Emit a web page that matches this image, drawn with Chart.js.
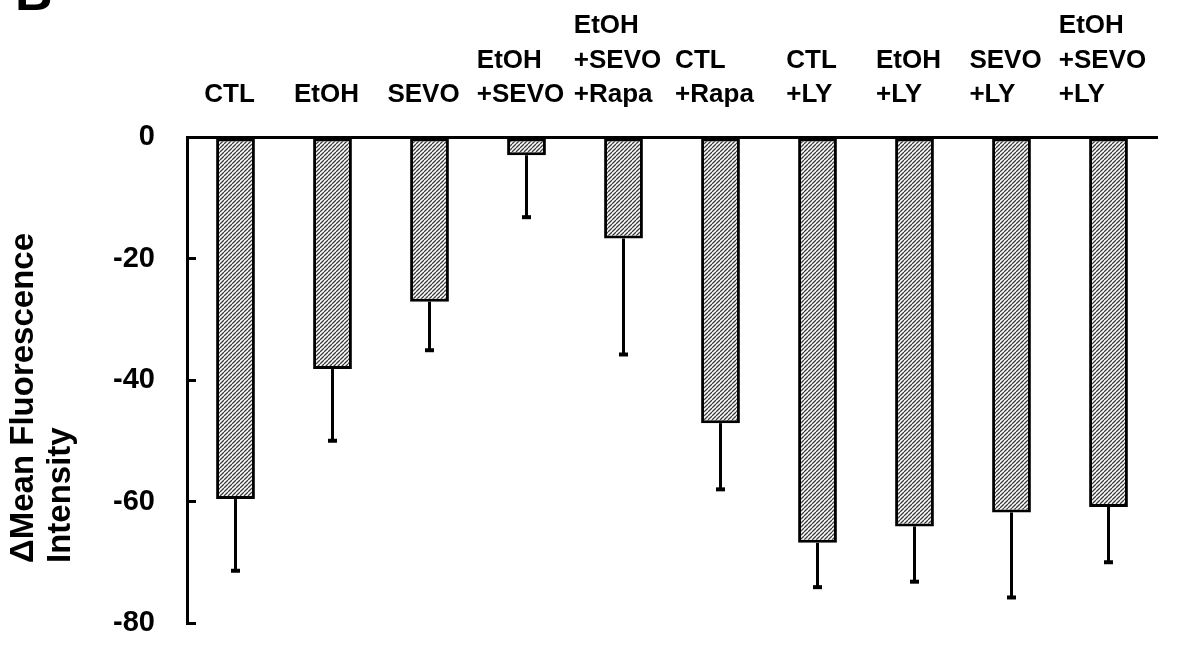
<!DOCTYPE html>
<html>
<head>
<meta charset="utf-8">
<title>Mean fluorescence intensity change</title>
<script src="https://cdn.jsdelivr.net/npm/chart.js@4.4.1/dist/chart.umd.min.js"></script>
<style>
  html, body { margin: 0; padding: 0; background: #ffffff; }
  #chart-wrap { width: 1188px; height: 648px; }
</style>
</head>
<body>
<div id="chart-wrap"><canvas id="mfi-chart" width="1188" height="648"></canvas></div>
<script>
const groupLabels = [
  ["CTL"],
  ["EtOH"],
  ["SEVO"],
  ["EtOH", "+SEVO"],
  ["EtOH", "+SEVO", "+Rapa"],
  ["CTL", "+Rapa"],
  ["CTL", "+LY"],
  ["EtOH", "+LY"],
  ["SEVO", "+LY"],
  ["EtOH", "+SEVO", "+LY"]
];
const meanChange = [-59.6, -38.2, -27.1, -3.0, -16.7, -47.1, -66.8, -64.1, -61.8, -60.9];
const errorSize = [11.8, 11.8, 8.0, 10.2, 19.1, 10.9, 7.3, 9.1, 14.0, 9.1];
const yMin = -80;
const yMax = 0;
const yStep = 20;
const yTitleLines = ["\u0394Mean Fluorescence", "Intensity"];
const panelLetter = "B";

const FONT = "'Liberation Sans', Arial, Helvetica, sans-serif";

function makeHatch() {
  const size = 4;
  const tile = document.createElement("canvas");
  tile.width = size;
  tile.height = size;
  const tctx = tile.getContext("2d");
  tctx.fillStyle = "#ffffff";
  tctx.fillRect(0, 0, size, size);
  tctx.strokeStyle = "#3a3a3a";
  tctx.lineWidth = 1.3;
  tctx.beginPath();
  for (let k = -1; k <= 1; k++) {
    tctx.moveTo(k * size, size);
    tctx.lineTo(k * size + size, 0);
  }
  tctx.stroke();
  return tctx.createPattern(tile, "repeat");
}

// error bars hang below each bar (away from zero)
const errorBarPlugin = {
  id: "errorBars",
  afterDatasetsDraw(chart) {
    const ctx = chart.ctx;
    const yScale = chart.scales.y;
    const meta = chart.getDatasetMeta(0);
    ctx.save();
    ctx.strokeStyle = "#000000";
    meta.data.forEach((bar, i) => {
      const yTop = yScale.getPixelForValue(meanChange[i]);
      const yEnd = yScale.getPixelForValue(meanChange[i] - errorSize[i]);
      ctx.lineWidth = 3;
      ctx.beginPath();
      ctx.moveTo(bar.x, yTop);
      ctx.lineTo(bar.x, yEnd);
      ctx.stroke();
      ctx.lineWidth = 4;
      ctx.beginPath();
      ctx.moveTo(bar.x - 4.5, yEnd);
      ctx.lineTo(bar.x + 4.5, yEnd);
      ctx.stroke();
    });
    ctx.restore();
  }
};

// group names sit above the zero line, lines left aligned, last line on a common baseline
const groupLabelPlugin = {
  id: "groupLabels",
  afterDraw(chart) {
    const ctx = chart.ctx;
    const xScale = chart.scales.x;
    const lineGap = 34.5;
    const baseLine = 102;
    ctx.save();
    ctx.fillStyle = "#000000";
    ctx.font = `bold 26px ${FONT}`;
    ctx.textAlign = "left";
    ctx.textBaseline = "alphabetic";
    groupLabels.forEach((lines, i) => {
      const center = xScale.getPixelForValue(i);
      const blockWidth = Math.max(...lines.map((line) => ctx.measureText(line).width));
      const left = center - blockWidth / 2 - 6;
      lines.forEach((line, j) => {
        const y = baseLine - (lines.length - 1 - j) * lineGap;
        ctx.fillText(line, left, y);
      });
    });

    // rotated y title, both lines starting from the same low point
    ctx.font = `bold 33px ${FONT}`;
    ctx.textBaseline = "middle";
    const titleX = [24, 61];
    yTitleLines.forEach((line, j) => {
      ctx.save();
      ctx.translate(titleX[j], 563);
      ctx.rotate(-Math.PI / 2);
      ctx.fillText(line, 0, 0);
      ctx.restore();
    });

    ctx.font = `bold 52px ${FONT}`;
    ctx.textBaseline = "alphabetic";
    ctx.fillText(panelLetter, 15, 10);
    ctx.restore();
  }
};

const canvas = document.getElementById("mfi-chart");
const hatch = makeHatch();

new Chart(canvas, {
  type: "bar",
  data: {
    labels: groupLabels.map((lines) => lines.join(" ")),
    datasets: [
      {
        label: "\u0394MFI",
        data: meanChange,
        backgroundColor: hatch,
        borderColor: "#000000",
        borderWidth: 3,
        borderSkipped: false,
        barPercentage: 0.4,
        categoryPercentage: 1.0
      }
    ]
  },
  options: {
    responsive: false,
    animation: false,
    devicePixelRatio: 1,
    layout: {
      padding: { left: 0, top: 0, right: 31, bottom: 25 }
    },
    plugins: {
      legend: { display: false },
      tooltip: { enabled: false }
    },
    scales: {
      x: {
        position: "top",
        offset: true,
        grid: { display: false },
        border: { display: true, color: "#000000", width: 3 },
        ticks: { display: false },
        afterFit(scale) {
          scale.height = 137;
        }
      },
      y: {
        min: yMin,
        max: yMax,
        grid: {
          display: true,
          drawOnChartArea: false,
          drawTicks: true,
          tickLength: -9,
          color: "#000000",
          lineWidth: 3
        },
        border: { display: true, color: "#000000", width: 3 },
        ticks: {
          stepSize: yStep,
          padding: 41,
          color: "#000000",
          font: { family: FONT, size: 29, weight: "bold" }
        },
        afterFit(scale) {
          scale.width = 187;
          // tick padding is only meant to push labels left, not to shrink the plot
          scale.paddingTop = 0;
          scale.paddingBottom = 0;
        }
      }
    }
  },
  plugins: [errorBarPlugin, groupLabelPlugin]
});
</script>
</body>
</html>
